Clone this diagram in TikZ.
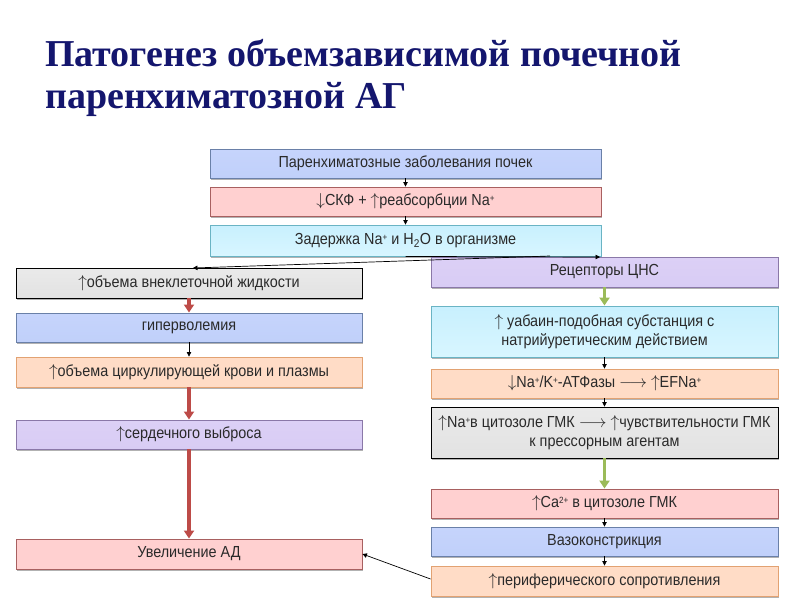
\documentclass[tikz,border=0pt]{standalone}
\usepackage{fontspec}
\setmainfont{Liberation Sans}
\newfontfamily\narrowfont[FakeStretch=0.9]{Liberation Sans}
\newfontfamily\titlefont{Liberation Serif}
\usetikzlibrary{arrows.meta,shadows}
\newcommand\ionp[1]{\raisebox{.5ex}{\fontsize{9}{9}\selectfont #1}}
\definecolor{titleblue}{HTML}{14166E}
\definecolor{txt}{HTML}{2A2A2A}
\definecolor{redarrow}{HTML}{BD4B48}
\definecolor{greenarrow}{HTML}{9BBB59}
\definecolor{blueD}{HTML}{6A80A8}\definecolor{blueT}{HTML}{C6D4FC}\definecolor{blueM}{HTML}{9DB6F8}\definecolor{blueB}{HTML}{C0D0FA}
\definecolor{redD}{HTML}{A86060}\definecolor{redT}{HTML}{FFD0D0}\definecolor{redM}{HTML}{FDA4A4}\definecolor{redB}{HTML}{FFD0D0}
\definecolor{cyanD}{HTML}{6AB4C4}\definecolor{cyanT}{HTML}{C8F0FE}\definecolor{cyanM}{HTML}{A6E6FA}\definecolor{cyanB}{HTML}{D8F6FF}
\definecolor{grayT}{HTML}{EAEAEA}\definecolor{grayM}{HTML}{C0C0C0}\definecolor{grayB}{HTML}{E2E2E2}
\definecolor{orD}{HTML}{E2A272}\definecolor{orT}{HTML}{FFDCC6}\definecolor{orM}{HTML}{FDCCAE}\definecolor{orB}{HTML}{FFDCC6}
\definecolor{puD}{HTML}{8A78A8}\definecolor{puT}{HTML}{DCD0F6}\definecolor{puM}{HTML}{C2B2EC}\definecolor{puB}{HTML}{D8CCF4}
\tikzset{
  bx/.style={draw, line width=0.9pt, inner sep=1pt, align=center, text=txt,
    font=\narrowfont\fontsize{16}{19}\selectfont,
    drop shadow={shadow xshift=0.6pt, shadow yshift=-1.8pt, fill=black, opacity=0.3}},
  bluebox/.style={bx, draw=blueD, top color=blueT, middle color=blueM, bottom color=blueB},
  redbox/.style={bx, draw=redD, top color=redT, middle color=redM, bottom color=redB},
  cyanbox/.style={bx, draw=cyanD, top color=cyanT, middle color=cyanM, bottom color=cyanB},
  graybox/.style={bx, draw=black, top color=grayT, middle color=grayM, bottom color=grayB},
  orangebox/.style={bx, draw=orD, top color=orT, middle color=orM, bottom color=orB},
  purplebox/.style={bx, draw=puD, top color=puT, middle color=puM, bottom color=puB},
  thin/.style={draw=black, line width=0.7pt, -{Triangle[width=4.5pt,length=4.5pt]}},
  thickred/.style={draw=redarrow, line width=3.5pt, -{Triangle[width=10pt,length=8pt]}},
  thickgreen/.style={draw=greenarrow, line width=3.5pt, -{Triangle[width=10pt,length=8pt]}},
}
\begin{document}
\begin{tikzpicture}[x=1pt,y=-1pt]
\useasboundingbox (0,0) rectangle (800,600);
\fill[white] (0,0) rectangle (800,600);
\node[anchor=base west, align=left, text=titleblue, font=\titlefont\bfseries\fontsize{38}{42}\selectfont, inner sep=0pt] (title) at (45,108) {Патогенез объемзависимой почечной\\паренхиматозной АГ};

\node[bluebox, minimum width=391pt, minimum height=29pt] (b1) at (405.5,163.5) {Паренхиматозные заболевания почек};
\node[redbox, minimum width=391pt, minimum height=29pt] (b2) at (405.5,201.5) {$\downarrow$СКФ + $\uparrow$реабсорбции Na\ionp{+}};
\node[cyanbox, minimum width=391pt, minimum height=31pt] (b3) at (405.5,240.5) {Задержка Na\ionp{+} и H\textsubscript{2}O в организме};

\node[graybox, minimum width=346pt, minimum height=30pt] (l1) at (189,283) {$\uparrow$объема внеклеточной жидкости};
\node[bluebox, minimum width=346pt, minimum height=29pt] (l2) at (189,327.5) {гиперволемия};
\node[orangebox, minimum width=346pt, minimum height=30pt] (l3) at (189,372) {$\uparrow$объема циркулирующей крови и плазмы};
\node[purplebox, minimum width=346pt, minimum height=29pt] (l4) at (189,434.5) {$\uparrow$сердечного выброса};
\node[redbox, minimum width=346pt, minimum height=30pt] (l5) at (189,554) {Увеличение АД};

\node[purplebox, minimum width=347pt, minimum height=30pt] (r1) at (604.5,272) {Рецепторы ЦНС};
\node[cyanbox, minimum width=347pt, minimum height=51pt] (r2) at (604.5,331.5) {$\uparrow$ уабаин-подобная субстанция с\\натрийуретическим действием};
\node[orangebox, minimum width=347pt, minimum height=29pt] (r3) at (604.5,383.5) {$\downarrow$Na\ionp{+}/K\ionp{+}-АТФазы $\longrightarrow$ $\uparrow$EFNa\ionp{+}};
\node[graybox, minimum width=347pt, minimum height=51pt] (r4) at (604.5,432.5) {$\uparrow$Na\ionp{+}в цитозоле ГМК $\longrightarrow$ $\uparrow$чувствительности ГМК\\к прессорным агентам};
\node[redbox, minimum width=347pt, minimum height=29pt] (r5) at (604.5,503.5) {$\uparrow$Ca\ionp{2+} в цитозоле ГМК};
\node[bluebox, minimum width=347pt, minimum height=29pt] (r6) at (604.5,541.5) {Вазоконстрикция};
\node[orangebox, minimum width=347pt, minimum height=30pt] (r7) at (604.5,581) {$\uparrow$периферического сопротивления};

\coordinate (s3a) at (550,256);
\coordinate (t4) at (193,268);
\coordinate (t9) at (600,257);

\draw[thin] (b1.south) -- (b2.north);
\draw[thin] (b2.south) -- (b3.north);
\draw[thin] (s3a) -- (t4);
\draw[thin] (b3.south) -- (t9);

\draw[thickred] (l1.south) -- (l2.north);
\draw[thin] (l2.south) -- (l3.north);
\draw[thickred] (l3.south) -- (l4.north);
\draw[thickred] (l4.south) -- (l5.north);

\draw[thickgreen] (r1.south) -- (r2.north);
\draw[thin] (r2.south) -- (r3.north);
\draw[thin] (r3.south) -- (r4.north);
\draw[thickgreen] (r4.south) -- (r5.north);
\draw[thin] (r5.south) -- (r6.north);
\draw[thin] (r6.south) -- (r7.north);
\draw[thin] (r7.west) ++(0,-2) -- (l5.east);
\end{tikzpicture}
\end{document}
